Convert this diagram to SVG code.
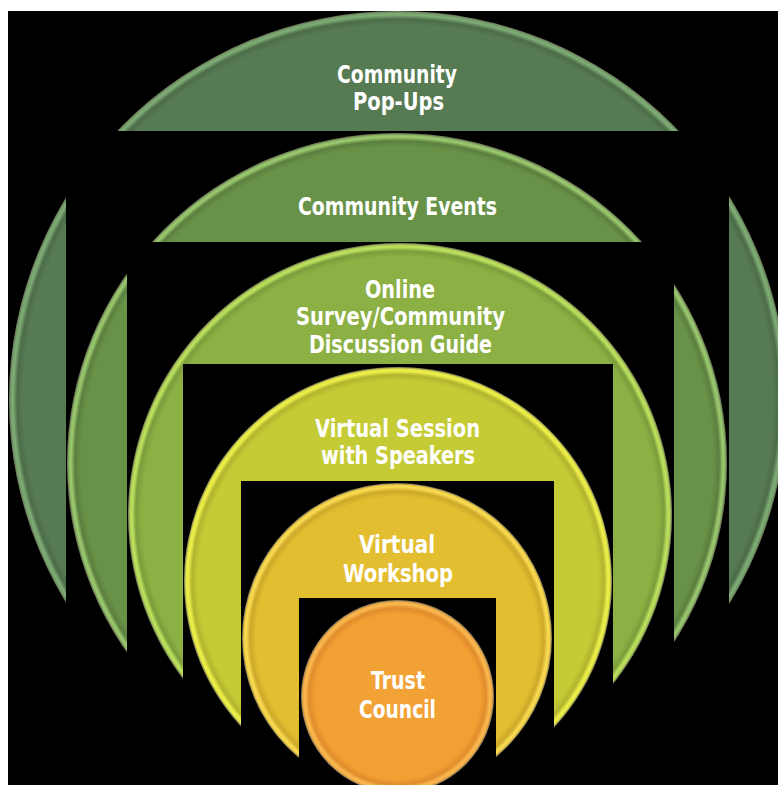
<svg xmlns="http://www.w3.org/2000/svg" width="778" height="785" viewBox="0 0 778 785">
<style>
.lbl{font-family:"DejaVu Sans Condensed","DejaVu Sans","Liberation Sans",sans-serif;font-weight:bold;font-size:25px;fill:#ffffff;text-anchor:middle}
.cut{fill:#000000}
</style>
<defs>
<radialGradient id="g1" gradientUnits="userSpaceOnUse" cx="398" cy="400" r="389">
<stop offset="0" stop-color="#567A52"/><stop offset="0.964" stop-color="#567A52"/><stop offset="0.979" stop-color="#4B6C47"/><stop offset="0.990" stop-color="#80AE77"/><stop offset="0.995" stop-color="#75A06B"/><stop offset="0.999" stop-color="#6E7A5C"/><stop offset="1" stop-color="#6E7A5C"/>
</radialGradient>
<radialGradient id="g2" gradientUnits="userSpaceOnUse" cx="397" cy="463" r="330">
<stop offset="0" stop-color="#689248"/><stop offset="0.958" stop-color="#689248"/><stop offset="0.976" stop-color="#5A7F3F"/><stop offset="0.988" stop-color="#9CCB70"/><stop offset="0.994" stop-color="#8DB866"/><stop offset="0.998" stop-color="#707E58"/><stop offset="1" stop-color="#707E58"/>
</radialGradient>
<radialGradient id="g3" gradientUnits="userSpaceOnUse" cx="400" cy="515" r="272">
<stop offset="0" stop-color="#8CB044"/><stop offset="0.949" stop-color="#8CB044"/><stop offset="0.971" stop-color="#7C9C3B"/><stop offset="0.985" stop-color="#BEE35F"/><stop offset="0.993" stop-color="#AED156"/><stop offset="0.998" stop-color="#7E8658"/><stop offset="1" stop-color="#7E8658"/>
</radialGradient>
<radialGradient id="g4" gradientUnits="userSpaceOnUse" cx="398" cy="581" r="214">
<stop offset="0" stop-color="#C4CB35"/><stop offset="0.935" stop-color="#C4CB35"/><stop offset="0.963" stop-color="#B2B42E"/><stop offset="0.981" stop-color="#EEF04A"/><stop offset="0.991" stop-color="#E2E644"/><stop offset="0.998" stop-color="#8C8A5A"/><stop offset="1" stop-color="#8C8A5A"/>
</radialGradient>
<radialGradient id="g5" gradientUnits="userSpaceOnUse" cx="397" cy="638" r="155">
<stop offset="0" stop-color="#E2BE30"/><stop offset="0.910" stop-color="#E2BE30"/><stop offset="0.948" stop-color="#CDA82A"/><stop offset="0.974" stop-color="#FADC52"/><stop offset="0.987" stop-color="#F0CE46"/><stop offset="0.997" stop-color="#8E8358"/><stop offset="1" stop-color="#8E8358"/>
</radialGradient>
<radialGradient id="g6" gradientUnits="userSpaceOnUse" cx="397.5" cy="696.5" r="96.5">
<stop offset="0" stop-color="#F2A236"/><stop offset="0.855" stop-color="#F2A034"/><stop offset="0.917" stop-color="#E08C2C"/><stop offset="0.959" stop-color="#FBBA50"/><stop offset="0.979" stop-color="#F2AC44"/><stop offset="0.995" stop-color="#95805A"/><stop offset="1" stop-color="#95805A"/>
</radialGradient>
</defs>
<rect x="0" y="0" width="778" height="785" fill="#ffffff"/>
<rect x="8" y="11" width="770" height="774" fill="#000000"/>
<g id="node-popups">
<circle cx="398" cy="400" r="389" fill="url(#g1)"/>
<text class="lbl" x="397" y="83" textLength="120" lengthAdjust="spacingAndGlyphs">Community</text>
<text class="lbl" x="398.5" y="110" textLength="91" lengthAdjust="spacingAndGlyphs">Pop-Ups</text>
</g>
<rect class="cut" x="66" y="131" width="663" height="654"/>
<g id="node-events">
<circle cx="397" cy="463" r="330" fill="url(#g2)"/>
<text class="lbl" x="397.5" y="215" textLength="199" lengthAdjust="spacingAndGlyphs">Community Events</text>
</g>
<rect class="cut" x="127" y="242" width="547" height="543"/>
<g id="node-survey">
<circle cx="400" cy="515" r="272" fill="url(#g3)"/>
<text class="lbl" x="400" y="298" textLength="70" lengthAdjust="spacingAndGlyphs">Online</text>
<text class="lbl" x="400.5" y="325" textLength="209" lengthAdjust="spacingAndGlyphs">Survey/Community</text>
<text class="lbl" x="400.5" y="353" textLength="183" lengthAdjust="spacingAndGlyphs">Discussion Guide</text>
</g>
<rect class="cut" x="183" y="364" width="430" height="421"/>
<g id="node-session">
<circle cx="398" cy="581" r="214" fill="url(#g4)"/>
<text class="lbl" x="397.5" y="437" textLength="165" lengthAdjust="spacingAndGlyphs">Virtual Session</text>
<text class="lbl" x="398" y="464" textLength="154" lengthAdjust="spacingAndGlyphs">with Speakers</text>
</g>
<rect class="cut" x="241" y="481" width="313" height="304"/>
<g id="node-workshop">
<circle cx="397" cy="638" r="155" fill="url(#g5)"/>
<text class="lbl" x="397" y="553" textLength="76" lengthAdjust="spacingAndGlyphs">Virtual</text>
<text class="lbl" x="398" y="582" textLength="110" lengthAdjust="spacingAndGlyphs">Workshop</text>
</g>
<rect class="cut" x="299" y="598" width="197" height="187"/>
<g id="node-trust">
<circle cx="397.5" cy="696.5" r="96.5" fill="url(#g6)"/>
<text class="lbl" x="398" y="689" textLength="54" lengthAdjust="spacingAndGlyphs">Trust</text>
<text class="lbl" x="397.5" y="718" textLength="77" lengthAdjust="spacingAndGlyphs">Council</text>
</g>
<g id="connectors"/>
</svg>
